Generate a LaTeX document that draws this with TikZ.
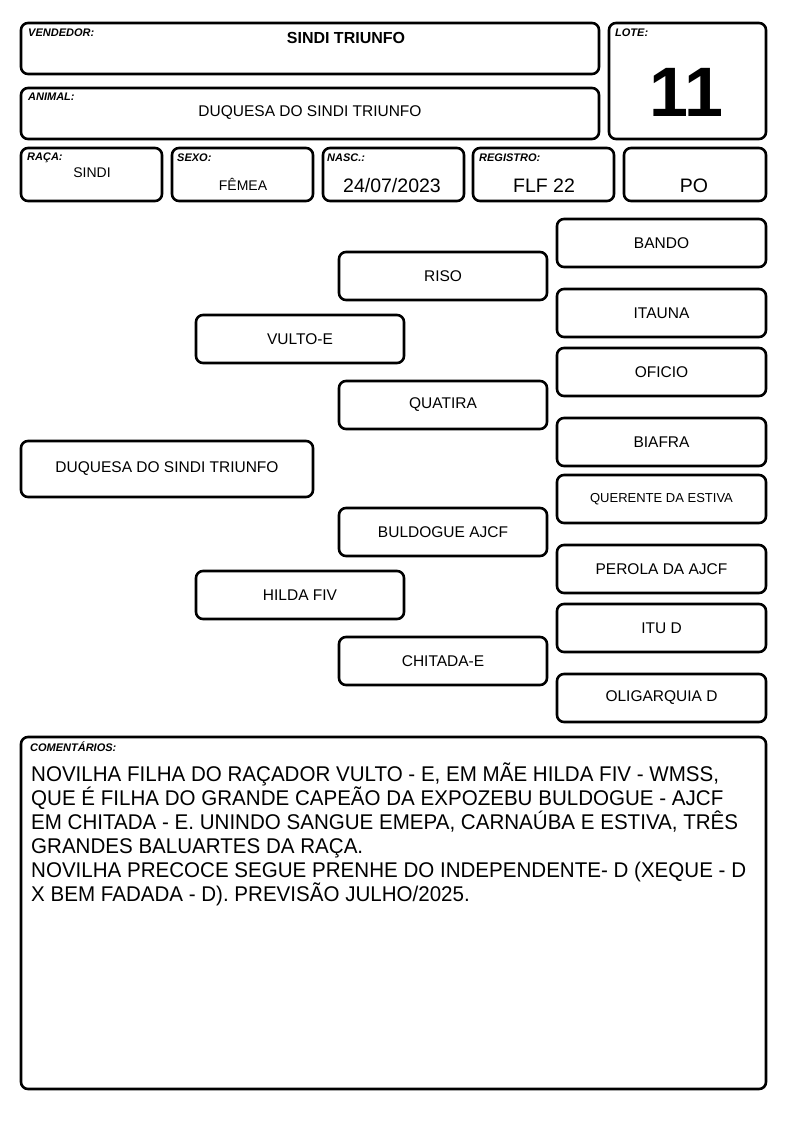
\documentclass[tikz,border=0pt]{standalone}
\usepackage{fontspec}
\setmainfont{Liberation Sans}
\newfontfamily\comfont[FakeStretch=0.965]{Liberation Sans}
\begin{document}
\begin{tikzpicture}[x=1pt,y=-1pt,
  box/.style={draw, line width=2.6pt, rounded corners=7pt, inner sep=0pt, font=\fontsize{15.5}{17}\selectfont},
  lbl/.style={anchor=north west, inner sep=0pt, font=\fontsize{11}{12}\selectfont\bfseries\itshape},
  val/.style={inner sep=0pt, font=\fontsize{15.5}{17}\selectfont},
  bigval/.style={inner sep=0pt, font=\fontsize{19.5}{21}\selectfont}]
\useasboundingbox (0,0) rectangle (794,1123);
% header
\node[box, minimum width=578, minimum height=51] (vend) at (310,48.5) {};
\node[lbl] (vendl) at (28,29) {VENDEDOR:};
\node[val, font=\fontsize{16}{18}\selectfont\bfseries] (vendv) at (346,37.5) {SINDI TRIUNFO};
\node[box, minimum width=157, minimum height=116] (lote) at (687.5,81) {};
\node[lbl] (lotel) at (615,29) {LOTE:};
\node[inner sep=0pt, font=\fontsize{70}{75}\selectfont\bfseries] (lotev) at (686,92) {11};
\node[box, minimum width=578, minimum height=51] (anim) at (310,113.5) {};
\node[lbl] (animl) at (28,93) {ANIMAL:};
\node[val] (animv) at (310,113) {DUQUESA DO SINDI TRIUNFO};
\node[box, minimum width=141, minimum height=53] (raca) at (91.5,174.5) {};
\node[lbl] (racal) at (27,153) {RAÇA:};
\node[val, font=\fontsize{14}{16}\selectfont] (racav) at (92,172.5) {SINDI};
\node[box, minimum width=141, minimum height=53] (sexo) at (242.5,174.5) {};
\node[lbl] (sexol) at (177,154) {SEXO:};
\node[val, font=\fontsize{14}{16}\selectfont] (sexov) at (243,184) {FÊMEA};
\node[box, minimum width=141, minimum height=53] (nasc) at (393.5,174.5) {};
\node[lbl] (nascl) at (327,154) {NASC.:};
\node[bigval] (nascv) at (392,186) {24/07/2023};
\node[box, minimum width=141, minimum height=53] (reg) at (543.5,174.5) {};
\node[lbl] (regl) at (479,154) {REGISTRO:};
\node[bigval] (regv) at (544,186) {FLF 22};
\node[box, minimum width=142, minimum height=53] (po) at (695,174.5) {};
\node[bigval] (pov) at (694,186) {PO};
% pedigree
\node[box, minimum width=292, minimum height=56] (duq) at (167,469) {DUQUESA DO SINDI TRIUNFO};
\node[box, minimum width=208, minimum height=48] (vulto) at (300,339) {VULTO-E};
\node[box, minimum width=208, minimum height=48] (hilda) at (300,595) {HILDA FIV};
\node[box, minimum width=208, minimum height=48] (riso) at (443,276) {RISO};
\node[box, minimum width=208, minimum height=48] (quat) at (443,405) {QUATIRA};
\node[box, minimum width=208, minimum height=48] (buld) at (443,532) {BULDOGUE AJCF};
\node[box, minimum width=208, minimum height=48] (chit) at (443,661) {CHITADA-E};
\node[box, minimum width=209, minimum height=48] (bando) at (661.5,243) {BANDO};
\node[box, minimum width=209, minimum height=48] (itau) at (661.5,313) {ITAUNA};
\node[box, minimum width=209, minimum height=48] (ofic) at (661.5,372) {OFICIO};
\node[box, minimum width=209, minimum height=48] (biaf) at (661.5,442) {BIAFRA};
\node[box, minimum width=209, minimum height=48, font=\fontsize{13}{15}\selectfont] (quer) at (661.5,499) {QUERENTE DA ESTIVA};
\node[box, minimum width=209, minimum height=48] (pero) at (661.5,569) {PEROLA DA AJCF};
\node[box, minimum width=209, minimum height=48] (itud) at (661.5,628) {ITU D};
\node[box, minimum width=209, minimum height=48] (olig) at (661.5,698) {OLIGARQUIA D};
% comments
\node[box, minimum width=745, minimum height=352] (com) at (393.5,913) {};
\node[lbl] (coml) at (30,742) {COMENTÁRIOS:};
\node[anchor=north west, inner sep=0pt, align=left, font=\comfont\fontsize{21.3}{23.9}\selectfont] (comt) at (31,763)
{NOVILHA FILHA DO RAÇADOR VULTO - E, EM MÃE HILDA FIV - WMSS,\\
QUE É FILHA DO GRANDE CAPEÃO DA EXPOZEBU BULDOGUE - AJCF\\
EM CHITADA - E. UNINDO SANGUE EMEPA, CARNAÚBA E ESTIVA, TRÊS\\
GRANDES BALUARTES DA RAÇA.\\
NOVILHA PRECOCE SEGUE PRENHE DO INDEPENDENTE- D (XEQUE - D\\
X BEM FADADA - D). PREVISÃO JULHO/2025.};
\end{tikzpicture}
\end{document}
